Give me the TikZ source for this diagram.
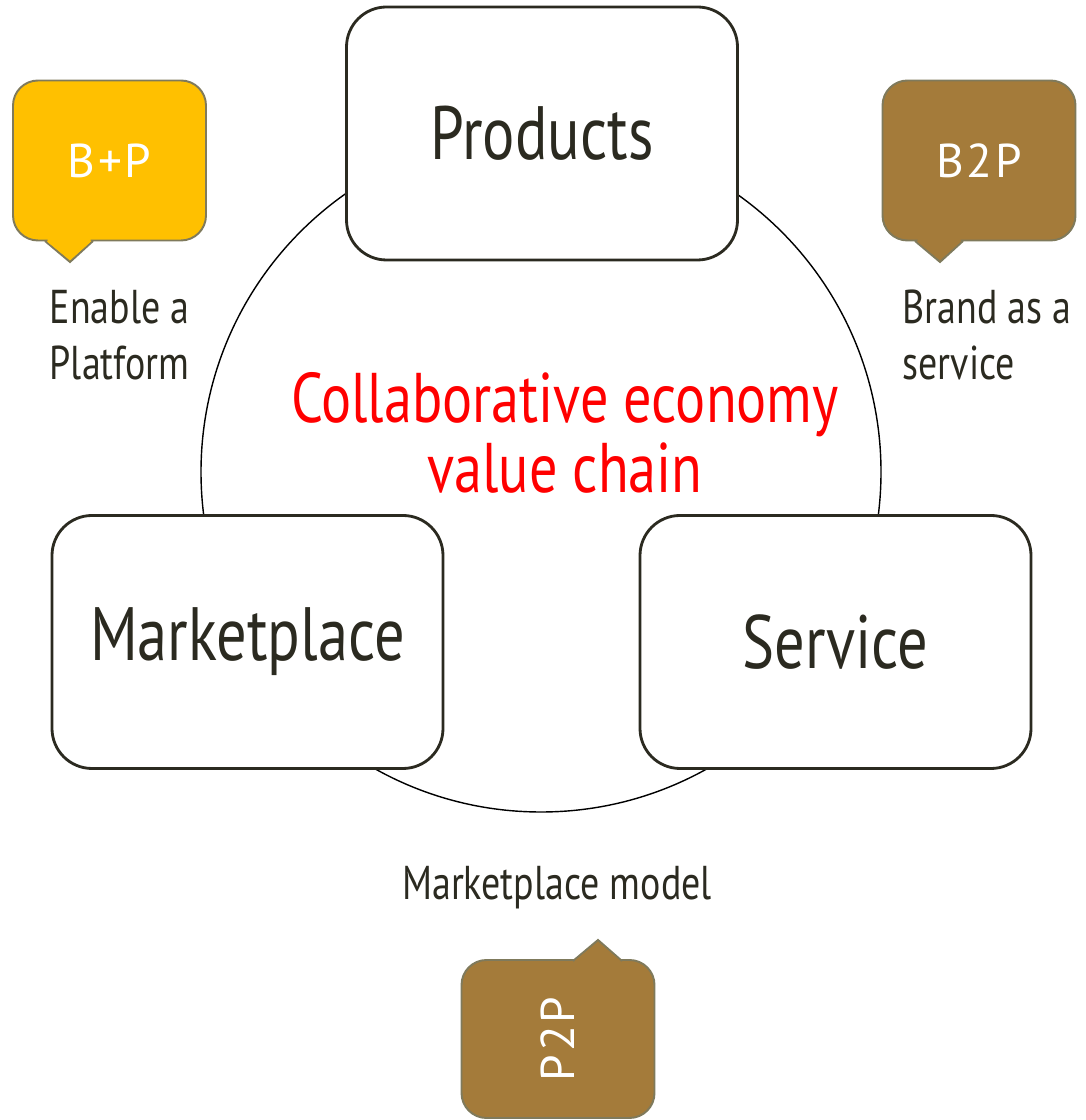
\documentclass[tikz,border=0pt]{standalone}
\usepackage{fontspec}
\setmainfont[FakeStretch=0.8]{PT Sans}
\newfontfamily\tagfont[LetterSpace=6]{PT Sans}
\definecolor{inkdark}{HTML}{2B2A20}
\definecolor{tagyellow}{HTML}{FFC000}
\definecolor{tagbrown}{HTML}{A47B3A}
\definecolor{tagedge}{HTML}{7F7A5C}
\tikzset{
  stage/.style={draw=inkdark, line width=1.6pt, fill=white, rounded corners=0.8cm,
    minimum width=7.82cm, minimum height=5.06cm, text=inkdark,
    font=\fontsize{43}{46}\selectfont},
  tag/.style={draw=tagedge, line width=1.1pt, rounded corners=0.5cm,
    minimum width=3.86cm, minimum height=3.2cm, text=white,
    font=\tagfont\fontsize{27}{30}\selectfont},
  note/.style={text=inkdark, align=left, font=\fontsize{27}{32}\selectfont}
}
\begin{document}
\begin{tikzpicture}
\useasboundingbox (0,0) rectangle (21.7,22.4);

% Value chain ring
\draw[line width=0.8pt, black] (10.82,12.96) circle (6.8);

% Stages
\node[stage] (products) at (10.84,19.73) {Products};
\node[stage] (market) at (4.95,9.56) {Marketplace};
\node[stage] (service) at (16.71,9.56) {Service};

% Centre title
\node[text=red, align=center, font=\fontsize{40}{40}\selectfont] (title) at (11.3,13.74)
    {Collaborative economy\\value chain};

% Tags
\node[tag, fill=tagyellow] (bp) at (2.19,19.19) {B+P};
\filldraw[draw=tagedge, fill=tagyellow, line width=1.1pt] (0.9,17.58) -- (1.4,17.16) -- (1.86,17.58);
\fill[tagyellow] (0.95,17.56) -- (1.4,17.2) -- (1.81,17.56) -- (1.81,17.7) -- (0.95,17.7) -- cycle;

\node[tag, fill=tagbrown] (btp) at (19.58,19.19) {B2P};
\filldraw[draw=tagedge, fill=tagbrown, line width=1.1pt] (18.3,17.58) -- (18.8,17.16) -- (19.26,17.58);
\fill[tagbrown] (18.35,17.56) -- (18.8,17.2) -- (19.21,17.56) -- (19.21,17.7) -- (18.35,17.7) -- cycle;

\node[tag, fill=tagbrown, minimum height=3.16cm] (ptp) at (11.16,1.62) {};
\node[text=white, font=\tagfont\fontsize{27}{30}\selectfont, rotate=90] (ptplabel) at (ptp) {P2P};
\filldraw[draw=tagedge, fill=tagbrown, line width=1.1pt] (11.46,3.18) -- (11.96,3.6) -- (12.44,3.18);
\fill[tagbrown] (11.51,3.2) -- (11.96,3.56) -- (12.39,3.2) -- (12.39,3.06) -- (11.51,3.06) -- cycle;

% Notes
\node[note, anchor=west] (enable) at (0.87,15.7) {Enable a\\Platform};
\node[note, anchor=west] (brand) at (17.93,15.7) {Brand as a\\service};
\node[note] (model) at (11.14,4.64) {Marketplace model};
\end{tikzpicture}
\end{document}
